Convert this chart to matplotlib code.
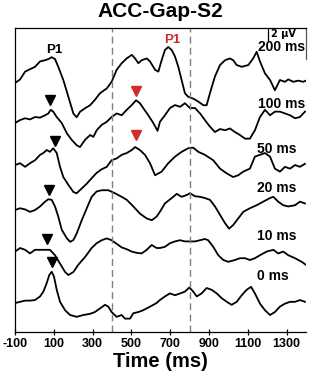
import numpy as np
import matplotlib
matplotlib.use("Agg")
import matplotlib.pyplot as plt

plt.rcParams['font.family'] = ['Liberation Sans', 'DejaVu Sans']
plt.rcParams['font.weight'] = 'bold'

# condition labels, top to bottom
conditions = ["200 ms", "100 ms", "50 ms", "20 ms", "10 ms", "0 ms"]
offsets = [41.5, 34.83, 27.83, 20.33, 13.5, 4.83]

# waveforms (time in ms, amplitude in uV)
t_200 = [-100, -74, -48, -23, 3, 29, 55, 72, 89, 106, 123, 149, 175, 201, 218, 235, 261, 287,
         312, 338, 373, 398, 424, 450, 476, 502, 519, 536, 553, 579, 596, 622, 639, 656, 673,
         690, 708, 725, 742, 759, 776, 793, 819, 845, 871, 888, 905, 931, 957, 983, 1008, 1025,
         1043, 1069, 1103, 1128, 1146, 1163, 1189, 1215, 1240, 1266, 1292, 1309, 1335, 1361,
         1386, 1400]
a_200 = [0.0, 0.6, 1.9, 2.3, 2.7, 3.6, 3.8, 4.0, 4.3, 4.0, 2.7, 0.5, -2.3, -5.1, -5.7, -4.8,
         -4.2, -3.7, -2.8, -1.7, -0.9, 0.2, 2.2, 3.3, 4.1, 4.7, 4.1, 3.3, 3.8, 4.1, 3.6, 2.2,
         1.9, 3.8, 5.5, 6.0, 5.5, 4.4, 2.7, 0.5, -1.7, -2.3, -2.6, -3.1, -3.7, -3.7, -1.7, 1.1,
         3.0, 3.8, 4.1, 3.8, 3.0, 2.7, 3.0, 4.1, 5.2, 3.6, 1.6, 0.5, -1.2, 0.5, 0.2, 0.6, 0.2,
         0.4, 0.2, 0.4]

t_100 = [-100, -74, -48, -23, 3, 29, 55, 72, 84, 97, 115, 141, 167, 192, 218, 235, 261, 287,
         304, 321, 347, 373, 398, 424, 450, 476, 502, 524, 544, 561, 587, 613, 635, 647, 673,
         699, 725, 751, 776, 802, 828, 854, 879, 905, 931, 957, 983, 1008, 1034, 1060, 1086,
         1111, 1137, 1163, 1189, 1215, 1240, 1266, 1292, 1318, 1344, 1369, 1395]
a_100 = [0.0, 0.5, 0.8, 0.6, 1.0, 0.9, 1.3, 1.6, 2.2, 1.9, 1.0, 0.0, -1.7, -2.8, -3.7, -4.0,
         -2.8, -2.0, -2.3, -1.2, -0.3, 0.2, 1.0, 1.6, 1.3, 2.2, 3.0, 3.8, 3.3, 2.5, 1.3, 0.0,
         -1.3, 0.2, 1.3, 2.5, 3.0, 2.7, 3.3, 2.5, 2.5, 1.6, 0.5, -0.6, -1.5, -1.0, -1.2, -0.9,
         -1.5, -2.0, -2.6, -2.6, -1.2, 1.0, 2.2, 1.3, 1.9, 1.9, 1.6, 1.3, 0.8, 1.0, 1.9]

t_50 = [-100, -74, -48, -23, 3, 29, 46, 63, 80, 97, 115, 132, 149, 175, 201, 218, 244, 270,
        295, 321, 347, 373, 398, 424, 450, 476, 502, 519, 544, 570, 596, 622, 656, 690, 725,
        759, 793, 819, 845, 879, 922, 957, 992, 1025, 1051, 1077, 1111, 1137, 1163, 1189,
        1215, 1240, 1266, 1292, 1318, 1344, 1369, 1395]
a_50 = [0.0, 0.3, -0.3, 0.3, 0.8, 1.7, 2.0, 2.5, 2.2, 2.8, 2.0, -0.3, -2.0, -3.3, -4.5, -4.7,
        -3.9, -3.1, -2.2, -1.3, -0.7, -0.3, 0.8, 1.1, 1.7, 2.0, 2.5, 3.0, 2.5, 1.7, 0.3, -1.7,
        -1.1, 0.3, 1.4, 2.2, 2.8, 2.9, 2.2, 1.7, 0.8, -0.6, -1.4, -2.0, -1.7, -1.1, -0.6, 1.4,
        1.7, 2.0, 1.4, -0.6, -1.1, -0.3, -0.6, 0.0, -0.3, 0.2]

t_20 = [-100, -74, -48, -23, 3, 29, 55, 72, 89, 106, 123, 141, 167, 184, 201, 218, 244, 270,
        295, 321, 347, 381, 415, 450, 476, 510, 544, 579, 605, 630, 647, 673, 708, 734, 759,
        785, 802, 828, 854, 879, 905, 931, 957, 983, 1004, 1025, 1051, 1077, 1111, 1146, 1180,
        1215, 1232, 1257, 1283, 1309, 1344, 1369, 1395]
a_20 = [0.0, 0.3, 0.1, -0.3, 0.0, 0.6, 1.4, 1.8, 1.7, 0.6, -1.1, -3.3, -4.7, -5.3, -5.0, -3.9,
        -1.7, 0.3, 2.2, 3.1, 3.3, 3.3, 2.8, 2.2, 1.7, 0.6, -0.6, -1.4, -1.7, -1.1, -0.3, 1.1,
        2.0, 2.7, 2.2, 2.5, 2.8, 2.3, 2.2, 2.0, 1.7, 0.6, -0.8, -2.2, -3.1, -2.5, -1.4, -0.3,
        0.3, 0.8, 1.4, 2.0, 2.2, 1.4, 0.8, 0.6, 0.8, 1.4, 1.1]

t_10 = [-100, -74, -48, -23, 3, 29, 55, 80, 106, 132, 158, 175, 201, 226, 261, 295, 321, 347,
        373, 398, 424, 450, 476, 502, 527, 553, 579, 605, 630, 647, 673, 699, 725, 751, 776,
        802, 828, 854, 879, 896, 922, 948, 974, 1000, 1034, 1060, 1086, 1111, 1137, 1163,
        1197, 1232, 1257, 1283, 1309, 1344, 1378, 1400]
a_10 = [-0.1, 0.5, 0.2, -0.4, 0.2, 0.2, 0.2, 0.2, -0.7, -2.1, -3.5, -4.0, -3.5, -2.3, -1.0,
        0.5, 1.3, 1.8, 2.1, 1.8, 1.2, 0.6, 0.3, -0.1, -0.3, -0.4, 0.2, 1.0, 0.5, 0.5, 0.7, 1.3,
        1.6, 1.8, 1.6, 1.6, 1.6, 1.8, 2.0, 1.8, 0.7, -0.7, -1.5, -1.8, -1.5, -1.2, -1.2, -1.5,
        -1.2, -0.7, -0.1, 0.2, -0.4, -0.1, -0.7, -1.2, -1.8, -2.3]

t_0 = [-100, -74, -48, -23, 3, 29, 46, 63, 77, 89, 101, 115, 132, 158, 184, 218, 252, 287,
       312, 338, 364, 381, 398, 424, 450, 467, 493, 510, 536, 561, 596, 630, 647, 673, 699,
       725, 751, 776, 799, 819, 837, 862, 888, 914, 940, 966, 992, 1017, 1043, 1069, 1094,
       1117, 1137, 1163, 1189, 1215, 1240, 1266, 1292, 1318, 1344, 1369, 1395]
a_0 = [0.0, 0.2, 0.4, 0.4, 0.5, 1.1, 1.9, 3.3, 4.7, 5.2, 4.4, 2.2, 0.2, -1.2, -2.0, -2.3, -2.0,
       -1.8, -1.5, -0.9, -0.3, -0.6, -1.5, -2.3, -2.0, -2.6, -2.6, -1.7, -1.5, -1.2, -0.6, 0.0,
       0.5, 1.1, 1.6, 1.3, 1.6, 1.9, 2.6, 1.9, 1.1, 1.6, 2.5, 2.2, 1.6, 0.8, 0.2, -0.3, 0.2,
       1.3, 2.2, 2.7, 1.6, -0.1, -1.2, -2.0, -1.5, -0.6, -0.1, 0.2, 0.2, 0.5, 0.2]

times = [t_200, t_100, t_50, t_20, t_10, t_0]
amps = [a_200, a_100, a_50, a_20, a_10, a_0]

# condition label positions (right edge time, height)
label_t = [1395, 1395, 1350, 1350, 1350, 1310]
label_y = [47.5, 38.0, 30.5, 24.0, 16.0, 9.3]

# peak markers
tri_t = [80, 524, 106, 524, 75, 65, 89]
tri_y = [38.7, 40.2, 31.8, 32.8, 23.7, 15.5, 11.7]
tri_c = ['black', 'red', 'black', 'red', 'black', 'black', 'black']

vlines_t = [400, 800]
xticks = [-100, 100, 300, 500, 700, 900, 1100, 1300]

red = '#d42a2a'

fig = plt.figure(figsize=(3.2, 3.8), dpi=100)
ax = fig.add_axes([0.047, 0.1263, 0.909, 0.8])

for t, a, off in zip(times, amps, offsets):
    ax.plot(t, np.array(a) + off, color='black', lw=1.3)

for v in vlines_t:
    ax.axvline(v, color='#808080', lw=1.0, ls=(0, (5, 3)))

for name, lt, ly in zip(conditions, label_t, label_y):
    ax.text(lt, ly, name, ha='right', va='center', fontsize=10, fontweight='bold')

for t, y, c in zip(tri_t, tri_y, tri_c):
    ax.plot(t, y, marker='v', color=red if c == 'red' else 'black', ms=6.5, ls='none')

ax.text(101, 47.0, "P1", ha='center', va='center', fontsize=9.5, fontweight='bold')
ax.text(709, 48.7, "P1", ha='center', va='center', fontsize=9.5, fontweight='bold', color=red)

# 2 uV scale mark
ax.plot([1204, 1204], [50.67, 48.67], color='black', lw=0.9)
ax.text(1222, 49.7, "2 \u03bcV", ha='left', va='center', fontsize=7, fontweight='bold',
        family=['DejaVu Sans'])
ax.plot([1400, 1400], [50.67, 45.5], color='#555555', lw=0.9, clip_on=False)

ax.set_xlim(-100, 1400)
ax.set_ylim(0, 50.67)
ax.set_yticks([])
ax.set_xticks(xticks)
ax.set_xticklabels([str(x) for x in xticks], fontsize=9, fontweight='bold')
ax.tick_params(axis='x', direction='inout', length=5, width=0.9, pad=2)
ax.spines['right'].set_visible(False)
for s in ['left', 'bottom', 'top']:
    ax.spines[s].set_linewidth(0.9)
ax.set_xlabel("Time (ms)", fontsize=14.5, fontweight='bold', labelpad=1)
fig.text(0.5, 0.97, "ACC-Gap-S2", ha='center', va='center', fontsize=15, fontweight='bold')

fig.savefig("out.png", dpi=100)
